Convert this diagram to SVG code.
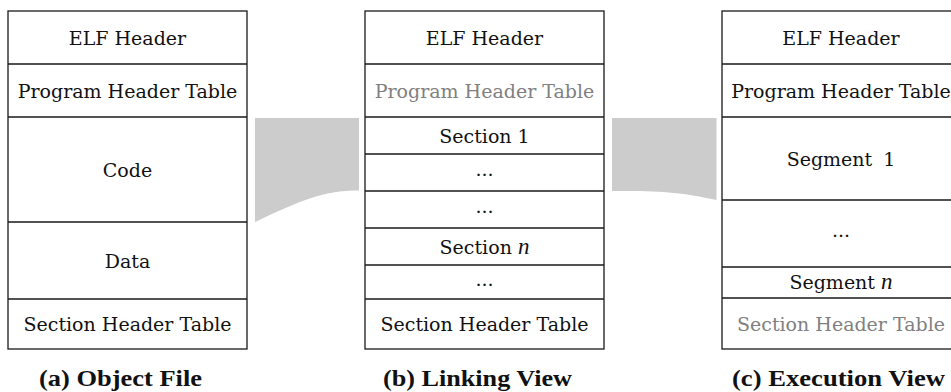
<svg xmlns="http://www.w3.org/2000/svg" width="951" height="392" viewBox="0 0 951 392">
<style>
.box{fill:#ffffff;stroke:#1a1a1a;stroke-width:1.3}
.sep{stroke:#1a1a1a;stroke-width:1.3;fill:none}
.t{font-family:"DejaVu Serif",serif;font-size:19px;fill:#111;text-anchor:middle}
.g{fill:#808080}
.i{font-family:"Liberation Serif",serif;font-style:italic;font-size:23px}
.cap{font-family:"Liberation Serif","DejaVu Serif",serif;font-size:23px;font-weight:bold;fill:#111;text-anchor:middle}
.flow{fill:#cccccc;stroke:none}
</style>
<rect width="951" height="392" fill="#ffffff"/>
<g id="connectors">
<path class="flow" d="M255,118 L359,118 L359,190.5 C322,190.5 300,201 255,222 Z"/>
<path class="flow" d="M612,118 L716.5,118 L716.5,200 C680,192 660,190.5 612,191 Z"/>
</g>
<g id="object-file">
<rect class="box" x="8" y="11" width="239" height="338"/>
<path class="sep" d="M8,64H247M8,117H247M8,222H247M8,299H247"/>
<text class="t" x="127.5" y="45">ELF Header</text>
<text class="t" x="127.5" y="98">Program Header Table</text>
<text class="t" x="127.5" y="176.5">Code</text>
<text class="t" x="127.5" y="267.5">Data</text>
<text class="t" x="127.5" y="331">Section Header Table</text>
<text class="cap" x="120.5" y="386" textLength="163" lengthAdjust="spacingAndGlyphs">(a) Object File</text>
</g>
<g id="linking-view">
<rect class="box" x="365" y="11" width="239" height="338"/>
<path class="sep" d="M365,64H604M365,117H604M365,154H604M365,191H604M365,228H604M365,265H604M365,299H604"/>
<text class="t" x="484.5" y="45">ELF Header</text>
<text class="t g" x="484.5" y="98">Program Header Table</text>
<text class="t" x="484.5" y="142.5">Section 1</text>
<text class="t" x="484.5" y="176">...</text>
<text class="t" x="484.5" y="213">...</text>
<text class="t" x="484.5" y="253.5">Section <tspan class="i">n</tspan></text>
<text class="t" x="484.5" y="286">...</text>
<text class="t" x="484.5" y="331">Section Header Table</text>
<text class="cap" x="477.5" y="386" textLength="189" lengthAdjust="spacingAndGlyphs">(b) Linking View</text>
</g>
<g id="execution-view">
<rect class="box" x="722" y="11" width="239" height="338"/>
<path class="sep" d="M722,64H961M722,117H961M722,200H961M722,267H961M722,298H961"/>
<text class="t" x="841" y="45">ELF Header</text>
<text class="t" x="841" y="98">Program Header Table</text>
<text class="t" x="841" y="165.5">Segment <tspan dx="5">1</tspan></text>
<text class="t" x="841" y="237">...</text>
<text class="t" x="841" y="289">Segment <tspan class="i">n</tspan></text>
<text class="t g" x="841" y="330.5">Section Header Table</text>
<text class="cap" x="838.5" y="386" textLength="213" lengthAdjust="spacingAndGlyphs">(c) Execution View</text>
</g>
</svg>
